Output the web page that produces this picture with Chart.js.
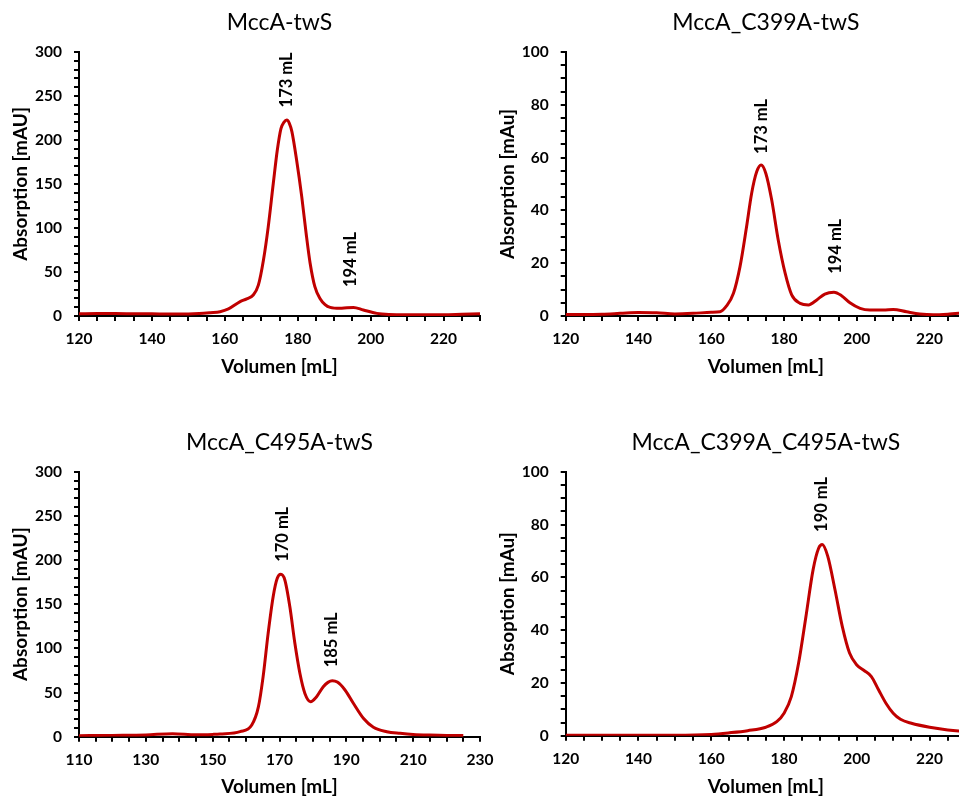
<!DOCTYPE html>
<html>
<head>
<meta charset="utf-8">
<script src="https://cdn.jsdelivr.net/npm/chart.js@4.4.1/dist/chart.umd.min.js"></script>
<style>
  html, body { margin: 0; padding: 0; background: #fff; }
  body { width: 959px; height: 796px; overflow: hidden; position: relative; }
  canvas { position: absolute; }
</style>
</head>
<body>
<canvas id="c1"></canvas>
<canvas id="c2"></canvas>
<canvas id="c3"></canvas>
<canvas id="c4"></canvas>
<script>
// ---------------- DATA ----------------
const titles = ['MccA-twS', 'MccA_C399A-twS', 'MccA_C495A-twS', 'MccA_C399A_C495A-twS'];
const xTitle = 'Volumen [mL]';
const yTitles = ['Absorption [mAU]', 'Absorption [mAu]', 'Absorption [mAU]', 'Absoption [mAu]'];

// Panel 1: MccA-twS
const vol1 = [120,125,130,135,140,145,150,153,156,158.7,161,164.2,166,167.8,169.2,170.6,171.9,173.3,174.4,175.4,176.2,177.0,177.7,178.4,179.7,181.1,182.3,183.4,184.7,186.1,187.5,188.9,191.6,193.5,195.3,198.0,201.7,205,210,215,220,225,230];
const abs1 = [2.5,2.8,2.8,2.6,2.5,2.2,2.3,2.8,3.8,4.9,8,16.3,19.5,23.9,35,63.6,101,150.8,188.6,213,220,222.7,219,209.5,177,135.6,94,60,33.3,20,13,9.8,8.7,9.5,9.8,6.8,3,1.8,1.5,1.5,1.5,2,2.5];

// Panel 2: MccA_C399A-twS
const vol2 = [120,125,130,135,140,145,150,155,160,162.4,164.2,166.1,167.9,169.7,171.1,172.5,173.7,175.0,176.6,178.4,180.3,182.1,184.4,186.7,189.0,191.2,193.7,195.8,198.1,200.9,203.6,207.3,210,213.7,217.3,221,225,228,232];
const abs2 = [0.6,0.6,0.7,1.0,1.3,1.2,0.8,1.0,1.4,1.6,3.8,8.6,18.7,33.8,46.5,54.7,57.2,54,44,28.8,16.2,8,4.8,4.2,6.1,8.3,9,7.7,5,2.9,2.3,2.3,2.5,1.6,0.8,0.5,0.7,1,1];

// Panel 3: MccA_C495A-twS
const vol3 = [110,120,130,138,145,150,152.2,158.2,161.7,163.7,165.1,166.6,168.1,169.3,170.4,171.6,173.1,174.6,176.1,177.6,179.3,181.1,183.1,184.5,185.8,187.3,189.6,192.1,195.1,198.1,202.1,206.1,210,215,220,225];
const abs3 = [1.1,1.5,2,3.4,2.2,2.6,3,5.7,13.2,34,68,117,158.5,179,183.8,177.4,147,105.7,71.8,49,39.7,45.3,56.6,61.5,63.3,61.8,52.9,37.8,20.8,10.6,5.7,3.8,2.5,1.8,1.5,1.5];

// Panel 4: MccA_C399A_C495A-twS
const vol4 = [120,130,140,150,160,165,170,175,178,180,182,184,186,188,189.5,190.5,192,194,196,198,200,202,204,206,208,210,212,215,220,225,228,232];
const abs4 = [0.2,0.2,0.2,0.2,0.5,1.1,1.9,3.2,5.3,8.5,14.8,27.5,45,63,71,72.4,68,55.3,41.4,31.3,26.8,24.7,22.4,17.3,12.3,8.5,6.2,4.7,3.2,2.2,1.8,1.5];

// Peak annotations: label, x (mL on axis), y (value at label base)
const peaks1 = [['173 mL', 177.0, 237], ['194 mL', 194.6, 33]];
const peaks2 = [['173 mL', 173.8, 61.4], ['194 mL', 194.1, 16]];
const peaks3 = [['170 mL', 170.8, 198], ['185 mL', 185.6, 78.6]];
const peaks4 = [['190 mL', 190.3, 77.2]];

// Axis ticks (all tick marks) and the labelled ones
const xTicks120 = [120,125,130,135,140,145,150,155,160,165,170,175,180,185,190,195,200,205,210,215,220,225,230];
const xLabels120 = [120,140,160,180,200,220];
const xTicks110 = [110,115,120,125,130,135,140,145,150,155,160,165,170,175,180,185,190,195,200,205,210,215,220,225,230];
const xLabels110 = [110,130,150,170,190,210,230];
const yTicks300 = [0,10,20,30,40,50,60,70,80,90,100,110,120,130,140,150,160,170,180,190,200,210,220,230,240,250,260,270,280,290,300];
const yLabels300 = [0,50,100,150,200,250,300];
const yTicks100 = [0,5,10,15,20,25,30,35,40,45,50,55,60,65,70,75,80,85,90,95,100];
const yLabels100 = [0,20,40,60,80,100];

// ---------------- DRAWING ----------------
Chart.defaults.font.family = 'Lato, "Open Sans", sans-serif';
Chart.defaults.color = '#000';

const RED = '#C00000';
const FONT_TICK = { size: 15.5, weight: 'bold' };
const FONT_AXIS = { size: 19, weight: 'bold' };
const FONT_TITLE = { size: 23, weight: 'normal' };
const FONT_PEAK = { size: 16.5, weight: 'bold' };

const peakLabels = {
  id: 'peakLabels',
  afterDatasetsDraw(chart, args, opts) {
    const ctx = chart.ctx;
    const xs = chart.scales.x, ys = chart.scales.y;
    ctx.save();
    ctx.fillStyle = '#000';
    ctx.font = `bold ${FONT_PEAK.size}px ${Chart.defaults.font.family}`;
    ctx.textAlign = 'left';
    ctx.textBaseline = 'middle';
    (opts.items || []).forEach(([t, x, y]) => {
      const px = xs.getPixelForValue(x), py = ys.getPixelForValue(y);
      ctx.save();
      ctx.translate(px, py);
      ctx.rotate(-Math.PI / 2);
      ctx.fillText(t, 0, 0);
      ctx.restore();
    });
    ctx.restore();
  }
};

function makeChart(cfg) {
  const el = document.getElementById(cfg.id);
  el.width = cfg.W; el.height = cfg.H;
  el.style.left = cfg.L + 'px'; el.style.top = cfg.T + 'px';
  el.style.width = cfg.W + 'px'; el.style.height = cfg.H + 'px';
  const pts = cfg.vol.map((v, i) => ({ x: v, y: cfg.abs[i] }));
  return new Chart(el, {
    type: 'line',
    data: { datasets: [{ data: pts, borderColor: RED, borderWidth: 3, pointRadius: 0, cubicInterpolationMode: 'monotone', fill: false }] },
    plugins: [peakLabels],
    options: {
      responsive: false,
      animation: false,
      events: [],
      layout: { padding: { left: 0, top: 0, right: cfg.padR, bottom: 0 } },
      plugins: {
        legend: { display: false },
        tooltip: { enabled: false },
        title: { display: true, text: cfg.title, fullSize: false, font: FONT_TITLE, color: '#000', padding: { top: cfg.tPadTop, bottom: cfg.tPadBot } },
        peakLabels: { items: cfg.peaks }
      },
      scales: {
        x: {
          type: 'linear', min: cfg.xMin, max: cfg.xMax,
          border: { display: true, color: '#000', width: 2 },
          grid: { display: true, drawOnChartArea: false, drawTicks: true, tickLength: 5, color: '#000', lineWidth: 2 },
          ticks: {
            autoSkip: false, maxRotation: 0, font: FONT_TICK, color: '#000', padding: 8.7,
            callback: (v) => cfg.xLabels.includes(v) && !(cfg.hideX || []).includes(v) ? String(v) : ''
          },
          title: { display: true, text: xTitle, font: FONT_AXIS, color: '#000', padding: { top: 0, bottom: 11.9 } },
          afterBuildTicks: (s) => { s.ticks = cfg.xTicks.map(v => ({ value: v })); },
          afterFit: (s) => { s.height = cfg.xAxisH; s.paddingLeft = 0; s.paddingRight = 0; }
        },
        y: {
          type: 'linear', min: 0, max: cfg.yMax,
          border: { display: true, color: '#000', width: 2 },
          grid: { display: true, drawOnChartArea: false, drawTicks: true, tickLength: 5, color: '#000', lineWidth: 2 },
          ticks: {
            autoSkip: false, font: FONT_TICK, color: '#000', padding: 12,
            callback: (v) => cfg.yLabels.includes(v) ? String(v) : ''
          },
          title: { display: true, text: cfg.yTitle, font: FONT_AXIS, color: '#000', padding: { top: cfg.yTitlePad, bottom: 0 } },
          afterBuildTicks: (s) => { s.ticks = cfg.yTicks.map(v => ({ value: v })); },
          afterFit: (s) => { s.width = cfg.yAxisW; s.paddingTop = 0; s.paddingBottom = 0; }
        }
      }
    }
  });
}

makeChart({ id: 'c1', L: 0, T: 0, W: 500, H: 390, padR: 20, yAxisW: 79, xAxisH: 74, tPadTop: 8.7, tPadBot: 15.7,
  title: titles[0], yTitle: yTitles[0], yTitlePad: 9.6, vol: vol1, abs: abs1, peaks: peaks1,
  xMin: 120, xMax: 230, xTicks: xTicks120, xLabels: xLabels120, hideX: [230], yMax: 300, yTicks: yTicks300, yLabels: yLabels300 });

makeChart({ id: 'c2', L: 480, T: 0, W: 486, H: 390, padR: 0, yAxisW: 85.7, xAxisH: 74, tPadTop: 8.7, tPadBot: 15.7,
  title: titles[1], yTitle: yTitles[1], yTitlePad: 16.9, vol: vol2, abs: abs2, peaks: peaks2,
  xMin: 120, xMax: 230, xTicks: xTicks120, xLabels: xLabels120, yMax: 100, yTicks: yTicks100, yLabels: yLabels100 });

makeChart({ id: 'c3', L: 0, T: 420, W: 500, H: 390, padR: 20, yAxisW: 79, xAxisH: 73.3, tPadTop: 8.9, tPadBot: 15.2,
  title: titles[2], yTitle: yTitles[2], yTitlePad: 9.6, vol: vol3, abs: abs3, peaks: peaks3,
  xMin: 110, xMax: 230, xTicks: xTicks110, xLabels: xLabels110, yMax: 300, yTicks: yTicks300, yLabels: yLabels300 });

makeChart({ id: 'c4', L: 480, T: 420, W: 486, H: 390, padR: 0, yAxisW: 85.7, xAxisH: 74.3, tPadTop: 8.9, tPadBot: 15.2,
  title: titles[3], yTitle: yTitles[3], yTitlePad: 16.9, vol: vol4, abs: abs4, peaks: peaks4,
  xMin: 120, xMax: 230, xTicks: xTicks120, xLabels: xLabels120, yMax: 100, yTicks: yTicks100, yLabels: yLabels100 });
</script>
</body>
</html>
